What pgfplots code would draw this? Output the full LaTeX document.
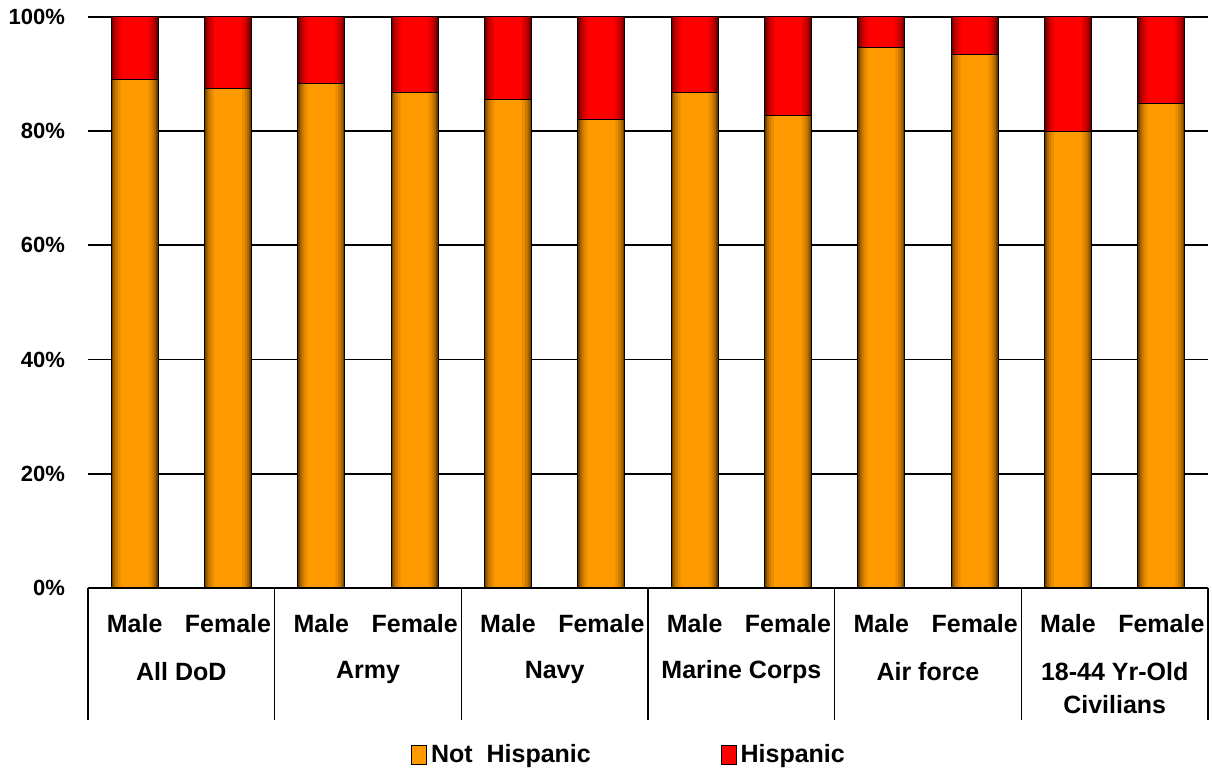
\documentclass[border=0pt]{standalone}
\usepackage{pgfplots}
\usepackage{pgfplotstable}
\pgfplotsset{compat=1.18}
\usepackage{fontspec}
\setmainfont{Liberation Sans}
\definecolor{nhOrange}{HTML}{FF9900}
\definecolor{nhDark}{HTML}{6E4200}
\definecolor{hRed}{HTML}{FF0000}
\definecolor{hDark}{HTML}{700000}
\tikzset{grouplabel/.style={font=\fontsize{12.5}{16.5}\selectfont\bfseries, align=center}}
% one layer of a bar: colour, width (narrower layers on top fake the rounded shading)
\pgfplotsset{lay/.style 2 args={fill=#1, draw=none, bar width=#2, bar shift=0pt}}

% x: slot, nh: Not Hispanic share, tot: top of the stack
\pgfplotstableread{
x  nh    tot
0  89.0  100
1  87.4  100
2  88.3  100
3  86.7  100
4  85.6  100
5  82.1  100
6  86.7  100
7  82.7  100
8  94.6  100
9  93.4  100
10 80.0  100
11 84.9  100
}\data

\begin{document}
\begin{tikzpicture}
\useasboundingbox (-44pt,-91pt) rectangle (562pt,294pt);
\begin{axis}[
    scale only axis,
    width=560pt, height=285.5pt,
    at={(0,0)}, anchor=south west,
    ybar,
    xmin=-0.5, xmax=11.5, ymin=0, ymax=100,
    clip=false,
    axis x line*=bottom, axis y line*=left,
    y axis line style={draw=none},
    x axis line style={black, line width=0.9pt},
    xtick={0,...,11},
    xticklabels={Male,Female,Male,Female,Male,Female,Male,Female,Male,Female,Male,Female},
    xticklabel style={font=\fontsize{12.5}{14}\selectfont\bfseries, yshift=-9.5pt},
    ytick={0,20,40,60,80,100},
    yticklabels={0\%,20\%,40\%,60\%,80\%,100\%},
    yticklabel style={font=\fontsize{11}{13}\selectfont\bfseries, xshift=-8pt},
    major tick length=0pt,
    ymajorgrids,
    major grid style={black, line width=0.9pt},
    extra x ticks={-0.5,1.5,3.5,5.5,7.5,9.5,11.5},
    extra x tick labels={},
    extra x tick style={major tick length=66pt, tick align=outside,
        major tick style={black, line width=0.6pt}, grid=none},
    legend columns=2,
    reverse legend,
    legend style={at={(0.484,-0.292)}, anchor=center, draw=none,
        font=\fontsize{12.5}{14}\selectfont\bfseries,
        /tikz/every even column/.append style={column sep=63pt}},
    legend image code/.code={\draw[#1, draw=black, line width=0.4pt] (0pt,-5pt) rectangle (7.5pt,4.5pt);},
]

% Hispanic (red, drawn full height, covered below by the orange part)
\addplot[lay={hDark}{23.5pt}, forget plot] table[x=x, y=tot] {\data};
\addplot[lay={hRed!35!hDark}{21.5pt}, forget plot] table[x=x, y=tot] {\data};
\addplot[lay={hRed!60!hDark}{19.5pt}, forget plot] table[x=x, y=tot] {\data};
\addplot[lay={hRed!82!hDark}{17pt}, forget plot] table[x=x, y=tot] {\data};
\addplot[lay={hRed}{14pt}] table[x=x, y=tot] {\data};
\addlegendentry{Hispanic}
\addplot[fill=none, draw=black, line width=0.5pt, bar width=23.5pt, bar shift=0pt, forget plot] table[x=x, y=tot] {\data};

% Not Hispanic
\addplot[lay={nhDark}{23.5pt}, forget plot] table[x=x, y=nh] {\data};
\addplot[lay={nhOrange!40!nhDark}{21.5pt}, forget plot] table[x=x, y=nh] {\data};
\addplot[lay={nhOrange!65!nhDark}{19.5pt}, forget plot] table[x=x, y=nh] {\data};
\addplot[lay={nhOrange!85!nhDark}{17pt}, forget plot] table[x=x, y=nh] {\data};
\addplot[lay={nhOrange}{14pt}] table[x=x, y=nh] {\data};
\addlegendentry{Not\ \ Hispanic}
\addplot[fill=none, draw=black, line width=0.5pt, bar width=23.5pt, bar shift=0pt, forget plot] table[x=x, y=nh] {\data};

\node[grouplabel, yshift=-42pt] at (axis cs:0.5,0) {All DoD};
\node[grouplabel, yshift=-42pt] at (axis cs:2.5,0) {Army};
\node[grouplabel, yshift=-42pt] at (axis cs:4.5,0) {Navy};
\node[grouplabel, yshift=-42pt] at (axis cs:6.5,0) {Marine Corps};
\node[grouplabel, yshift=-42pt] at (axis cs:8.5,0) {Air force};
\node[grouplabel, yshift=-50pt] at (axis cs:10.5,0) {18-44 Yr-Old\\Civilians};

\end{axis}
\end{tikzpicture}
\end{document}
